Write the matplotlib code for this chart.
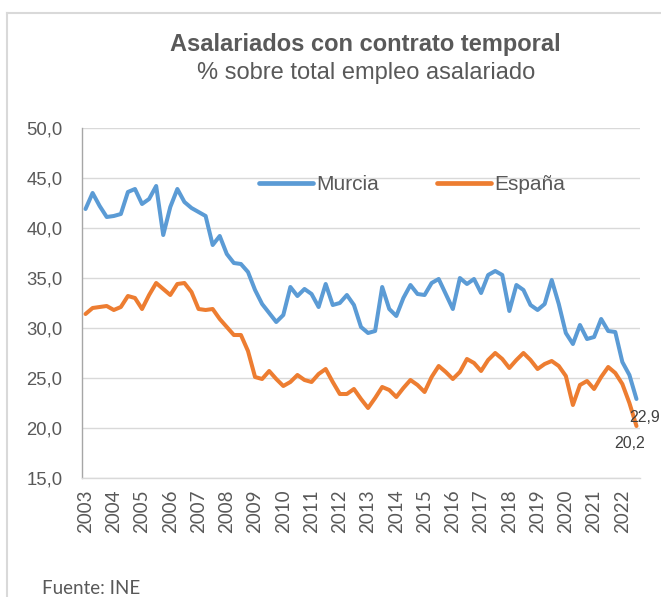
import matplotlib
matplotlib.use("Agg")
import matplotlib.pyplot as plt
from matplotlib.lines import Line2D
import numpy as np

# ---- data (quarterly, 2003T1 .. 2022T3) ----
year_labels = ["2003", "2004", "2005", "2006", "2007", "2008", "2009", "2010", "2011", "2012",
               "2013", "2014", "2015", "2016", "2017", "2018", "2019", "2020", "2021", "2022"]
murcia = [41.9, 43.5, 42.2, 41.1, 41.2, 41.4, 43.6, 43.9, 42.4, 42.9,
          44.2, 39.3, 42.1, 43.9, 42.6, 42.0, 41.6, 41.2, 38.3, 39.2,
          37.4, 36.5, 36.4, 35.6, 33.8, 32.4, 31.5, 30.6, 31.3, 34.1,
          33.2, 33.9, 33.4, 32.1, 34.4, 32.3, 32.5, 33.3, 32.3, 30.1,
          29.5, 29.7, 34.1, 31.9, 31.2, 33.0, 34.3, 33.4, 33.3, 34.5,
          34.9, 33.4, 31.9, 35.0, 34.4, 34.9, 33.5, 35.3, 35.7, 35.3,
          31.7, 34.3, 33.8, 32.3, 31.8, 32.4, 34.8, 32.4, 29.5, 28.4,
          30.3, 28.9, 29.1, 30.9, 29.7, 29.6, 26.6, 25.3, 22.9]
espana = [31.4, 32.0, 32.1, 32.2, 31.8, 32.1, 33.2, 33.0, 31.9, 33.3,
          34.5, 33.9, 33.3, 34.4, 34.5, 33.6, 31.9, 31.8, 31.9, 30.9,
          30.1, 29.3, 29.3, 27.7, 25.1, 24.9, 25.7, 24.9, 24.2, 24.6,
          25.3, 24.8, 24.6, 25.4, 25.9, 24.6, 23.4, 23.4, 23.9, 22.9,
          22.0, 23.0, 24.1, 23.8, 23.1, 24.0, 24.8, 24.3, 23.6, 25.1,
          26.2, 25.6, 24.9, 25.6, 26.9, 26.5, 25.7, 26.8, 27.5, 26.9,
          26.0, 26.8, 27.5, 26.8, 25.9, 26.4, 26.7, 26.2, 25.2, 22.3,
          24.3, 24.7, 23.9, 25.1, 26.1, 25.5, 24.4, 22.5, 20.2]
series_names = ["Murcia", "España"]
last_labels = ["22,9", "20,2"]
y_ticks = [15, 20, 25, 30, 35, 40, 45, 50]

C_MUR = "#5b9bd5"
C_ESP = "#ed7d31"
TXT = "#595959"
ARIAL = ["Liberation Sans", "DejaVu Sans"]
CALI = ["Lato", "DejaVu Sans"]

W, H = 661, 597
fig = plt.figure(figsize=(W / 100, H / 100), dpi=100)
fig.patch.set_facecolor("white")

ax = fig.add_axes([82 / W, 1 - 478 / H, 558 / W, 350 / H])
x = np.arange(len(murcia))
ax.plot(x, murcia, color=C_MUR, lw=2.9, solid_capstyle="round", solid_joinstyle="round",
        label=series_names[0], zorder=3)
ax.plot(x, espana, color=C_ESP, lw=2.9, solid_capstyle="round", solid_joinstyle="round",
        label=series_names[1], zorder=3)

ax.set_xlim(-0.5, len(murcia) - 0.5)
ax.set_ylim(15, 50)
ax.set_yticks(y_ticks)
ax.set_yticklabels([f"{v:.1f}".replace(".", ",") for v in y_ticks],
                   fontfamily=ARIAL, fontsize=13.3, color=TXT)
ax.set_xticks(np.arange(0, len(murcia), 4)[:len(year_labels)])
ax.set_xticklabels(year_labels, rotation=90, fontfamily=CALI, fontsize=13.5, color=TXT)
ax.tick_params(axis="y", length=0, pad=14)
ax.tick_params(axis="x", length=0, pad=8)

ax.grid(axis="y", color="#d9d9d9", lw=1.0, zorder=0)
ax.set_axisbelow(True)
for s in ["top", "right"]:
    ax.spines[s].set_visible(False)
ax.spines["left"].set_color("#a6a6a6")
ax.spines["left"].set_linewidth(1.0)
ax.spines["bottom"].set_color("#d9d9d9")
ax.spines["bottom"].set_linewidth(1.0)

# end labels
ax.annotate(last_labels[0], (x[-1], murcia[-1]), xytext=(-5, -8), textcoords="offset points",
            ha="left", va="top", fontfamily=ARIAL, fontsize=11.5, color="#404040")
ax.annotate(last_labels[1], (x[-1], espana[-1]), xytext=(-5, -7), textcoords="offset points",
            ha="center", va="top", fontfamily=ARIAL, fontsize=11.5, color="#404040")

# legend
leg = ax.legend(loc="center", bbox_to_anchor=(412 / W, 1 - 185 / H), bbox_transform=fig.transFigure,
                ncol=2, frameon=False, handlelength=2.6, handletextpad=0.15, columnspacing=2.8,
                borderpad=0, prop={"family": ARIAL, "size": 15})
for t in leg.get_texts():
    t.set_color(TXT)
for h in leg.get_lines():
    h.set_linewidth(3.4)

# titles
fig.text(365 / W, 1 - 45 / H, "Asalariados con contrato temporal", ha="center", va="center",
         fontfamily=ARIAL, fontsize=17, fontweight="bold", color=TXT)
fig.text(366 / W, 1 - 73 / H, "% sobre total empleo asalariado", ha="center", va="center",
         fontfamily=ARIAL, fontsize=17, color=TXT)

fig.text(42 / W, 1 - 588 / H, "Fuente: INE", ha="left", va="center",
         fontfamily=CALI, fontsize=13.5, color=TXT)

# chart frame (left and top edges)
fig.add_artist(Line2D([7 / W, 7 / W], [0, 1 - 13 / H], transform=fig.transFigure,
                      color="#d9d9d9", lw=1.5))
fig.add_artist(Line2D([7 / W, 1], [1 - 13 / H, 1 - 13 / H], transform=fig.transFigure,
                      color="#d9d9d9", lw=1.5))

fig.savefig("out.png", dpi=100, facecolor="white")
